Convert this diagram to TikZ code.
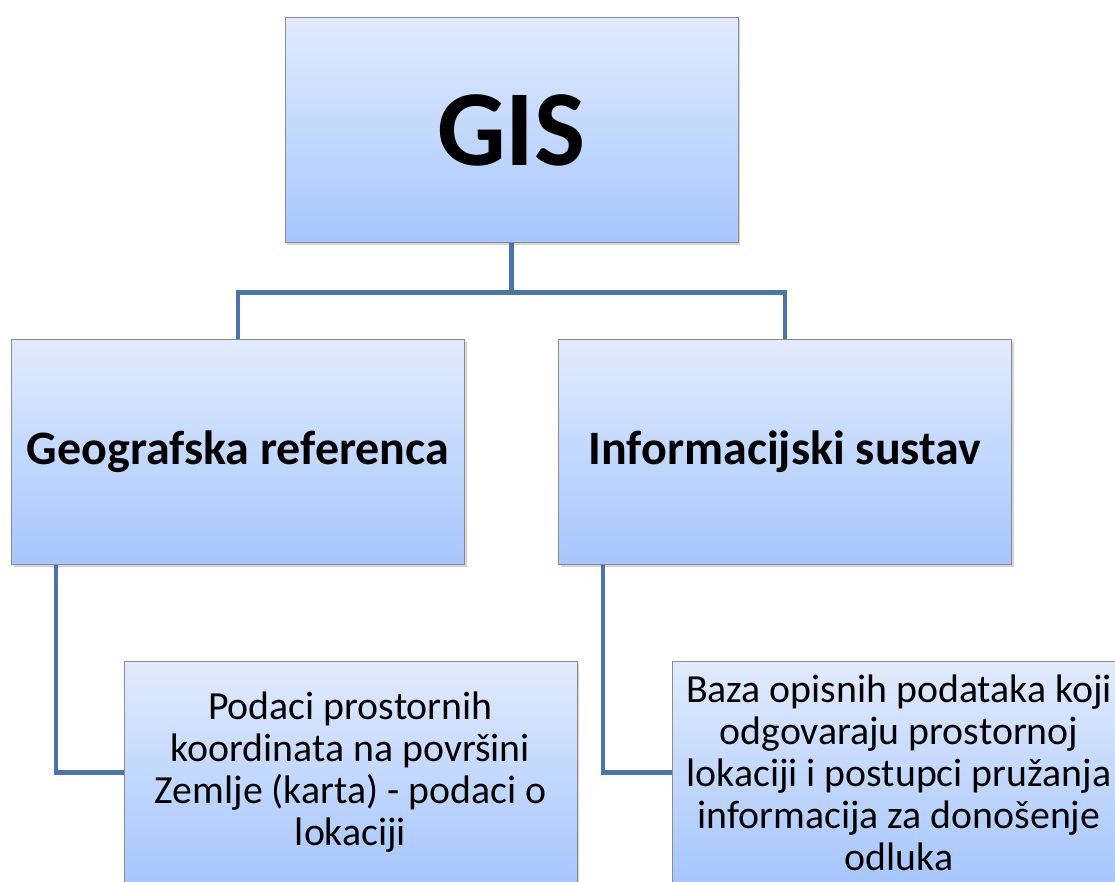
\documentclass[tikz,border=0pt]{standalone}
\usepackage{fontspec}
\setmainfont{Carlito}
\usetikzlibrary{shadows,calc}
\definecolor{topc}{HTML}{E1EBFE}
\definecolor{botc}{HTML}{A6C6FD}
\definecolor{edgec}{HTML}{8C8C8C}
\definecolor{linec}{HTML}{4A74AA}
\tikzset{
  box/.style={draw=edgec, line width=1pt, top color=topc, bottom color=botc,
    minimum width=453pt, minimum height=225pt, align=center, inner sep=4pt,
    drop shadow={shadow xshift=2pt, shadow yshift=-2.5pt, opacity=0.35}},
  conn/.style={draw=linec, line width=4.5pt, line join=miter},
  big/.style={font=\fontsize{108}{120}\selectfont\bfseries},
  mid/.style={font=\fontsize{48}{56}\selectfont\bfseries},
  small/.style={font=\fontsize{39.8}{42}\selectfont},
}
\begin{document}
\begin{tikzpicture}[x=1pt,y=1pt]
\useasboundingbox (0,0) rectangle (1115,-882);
\clip (0,0) rectangle (1115,-882);
\node[box, big] (gis) at (511.5,-130.5) {GIS};
\node[box, mid] (geo) at (238,-452) {Geografska referenca};
\node[box, mid] (inf) at (785,-452) {Informacijski sustav};
\node[box, small, minimum height=223pt] (pod) at (350.5,-772.5) {Podaci prostornih\\koordinata na površini\\Zemlje (karta) - podaci o\\lokaciji};
\node[box, small, minimum height=223pt] (baz) at (899,-772.5) {Baza opisnih podataka koji\\odgovaraju prostornoj\\lokaciji i postupci pružanja\\informacija za donošenje\\odluka};
\coordinate (midpt) at ($(gis.south)+(0,-49)$);
\draw[conn] (gis.south) -- (midpt) -| (geo.north);
\draw[conn] (gis.south) -- (midpt) -| (inf.north);
\draw[conn] ([xshift=45pt]geo.south west) |- (pod.west);
\draw[conn] ([xshift=45pt]inf.south west) |- (baz.west);
\end{tikzpicture}
\end{document}
